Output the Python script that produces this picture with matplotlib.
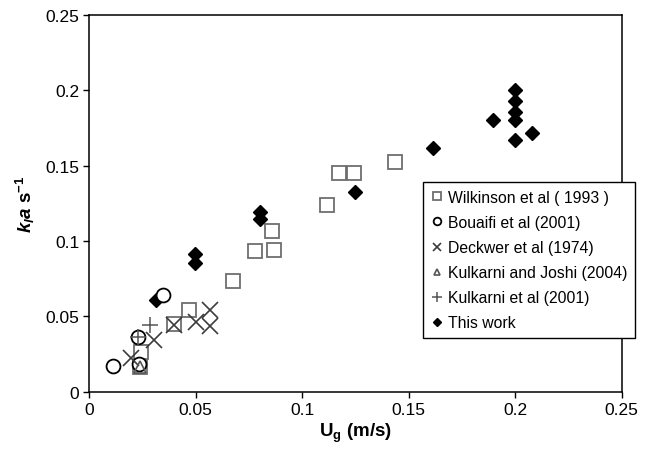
import matplotlib.pyplot as plt

plt.rcParams['font.family'] = ['Liberation Sans', 'DejaVu Sans']
plt.rcParams['mathtext.fontset'] = 'custom'
plt.rcParams['mathtext.rm'] = 'Liberation Sans:bold'
plt.rcParams['mathtext.it'] = 'Liberation Sans:bold:italic'
plt.rcParams['mathtext.bf'] = 'Liberation Sans:bold'

# superficial gas velocity (m/s) vs kla (1/s)
wilkinson_x = [0.0237, 0.0245, 0.0398, 0.0469, 0.0675, 0.0777, 0.0858, 0.0867,
               0.1117, 0.1175, 0.1245, 0.1437]
wilkinson_y = [0.0166, 0.0265, 0.0452, 0.0540, 0.0732, 0.0932, 0.1069, 0.0943,
               0.1237, 0.1450, 0.1448, 0.1525]

bouaifi_x = [0.0110, 0.0233, 0.0230, 0.0347]
bouaifi_y = [0.0170, 0.0186, 0.0365, 0.0644]

deckwer_x = [0.0199, 0.0306, 0.0398, 0.0503, 0.0569, 0.0569]
deckwer_y = [0.0225, 0.0345, 0.0442, 0.0460, 0.0544, 0.0438]

kulkarni_joshi_x = [0.0238]
kulkarni_joshi_y = [0.0164]

kulkarni_x = [0.0230, 0.0284]
kulkarni_y = [0.0365, 0.0442]

this_work_x = [0.0316, 0.0495, 0.0495, 0.0800, 0.0800, 0.1248, 0.1615,
               0.1898, 0.1998, 0.1998, 0.1998, 0.1998, 0.1998, 0.2080]
this_work_y = [0.0607, 0.0916, 0.0857, 0.1195, 0.1149, 0.1326, 0.1618,
               0.1801, 0.2001, 0.1930, 0.1857, 0.1801, 0.1669, 0.1713]

ticks = [0, 0.05, 0.1, 0.15, 0.2, 0.25]
tick_labels = ['0', '0.05', '0.1', '0.15', '0.2', '0.25']

fig = plt.figure(figsize=(6.6, 4.52), dpi=100)
ax = fig.add_axes([0.135, 0.131, 0.807, 0.834])

ax.plot(wilkinson_x, wilkinson_y, ls='none', marker='s', ms=10, mfc='none',
        mec='#6e6e6e', mew=1.3, zorder=2, label='Wilkinson et al ( 1993 )')
ax.plot(this_work_x, this_work_y, ls='none', marker='D', ms=7.2, mfc='black',
        mec='black', zorder=3, label='This work')
ax.plot(bouaifi_x, bouaifi_y, ls='none', marker='o', ms=10, mfc='white',
        mec='black', mew=1.3, zorder=4, label='Bouaifi et al (2001)')
ax.plot(deckwer_x, deckwer_y, ls='none', marker='x', ms=11, mec='#3c3c3c',
        mew=1.2, zorder=5, label='Deckwer et al (1974)')
ax.plot(kulkarni_joshi_x, kulkarni_joshi_y, ls='none', marker='^', ms=9,
        mfc='none', mec='#555555', mew=1.2, zorder=5,
        label='Kulkarni and Joshi (2004)')
ax.plot(kulkarni_x, kulkarni_y, ls='none', marker='+', ms=12, mec='#555555',
        mew=1.1, zorder=6, label='Kulkarni et al (2001)')

ax.set_xlim(0, 0.25)
ax.set_ylim(0, 0.25)
ax.set_xticks(ticks)
ax.set_xticklabels(tick_labels)
ax.set_yticks(ticks)
ax.set_yticklabels(tick_labels)
ax.tick_params(direction='out', length=4, width=1, labelsize=12.5,
               colors='black', pad=3)
for s in ax.spines.values():
    s.set_linewidth(1.1)

ax.set_xlabel(r'U$_\mathbf{g}$ (m/s)', fontsize=13.5, fontweight='bold',
              labelpad=3)
ax.set_ylabel(r'$k_l a$ s$^{\mathbf{-1}}$', fontsize=13.5, fontweight='bold',
              labelpad=6)

handles, labels = ax.get_legend_handles_labels()
order = [0, 2, 3, 4, 5, 1]
leg = ax.legend([handles[i] for i in order], [labels[i] for i in order],
                loc='upper left', bbox_to_anchor=(0.641, 0.595),
                bbox_transform=fig.transFigure, fontsize=11.3, markerscale=0.55,
                frameon=True, fancybox=False, framealpha=1, edgecolor='black',
                handlelength=0.8, handletextpad=0.3, labelspacing=0.64,
                borderpad=0.5, borderaxespad=0)
leg.get_frame().set_linewidth(1.0)
leg.set_zorder(10)

fig.savefig('out.png', dpi=100)
